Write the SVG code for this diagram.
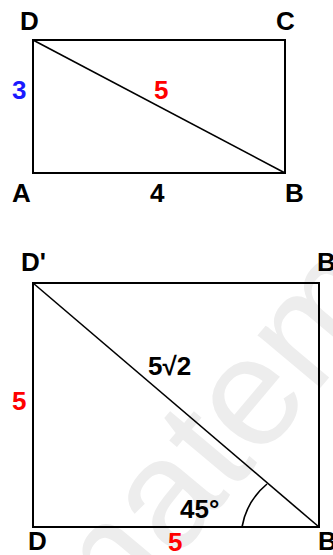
<svg xmlns="http://www.w3.org/2000/svg" width="333" height="555" viewBox="0 0 333 555">
<style>
.lbl{font-family:"Liberation Sans",Arial,sans-serif;font-weight:bold;font-size:26px;fill:#000}
.red{fill:#ff0000}
.blue{fill:#1a1aff}
.edge{fill:none;stroke:#000;stroke-width:2}
.diag{fill:none;stroke:#000;stroke-width:1.6}
.wm{font-family:"Liberation Sans",Arial,sans-serif;font-size:155px;fill:#ededed}
</style>
<rect width="333" height="555" fill="#fff"/>
<text class="wm" transform="translate(92,660) rotate(-50)">matem</text>
<g id="rect1">
<rect class="edge" x="33" y="40" width="252" height="133"/>
</g>
<g id="rect2">
<rect class="edge" x="33" y="283" width="286" height="244"/>
</g>
<g id="connectors">
<line class="diag" x1="33" y1="40" x2="285" y2="173"/>
<line class="diag" x1="33" y1="283" x2="319" y2="527"/>
<path class="diag" d="M242,527 A72,72 0 0 1 267,484"/>
</g>
<g id="labels1">
<text class="lbl" x="20" y="30">D</text>
<text class="lbl" x="276" y="30">C</text>
<text class="lbl blue" x="12" y="99">3</text>
<text class="lbl red" x="154" y="99">5</text>
<text class="lbl" x="12" y="202">A</text>
<text class="lbl" x="150" y="202">4</text>
<text class="lbl" x="285" y="202">B</text>
</g>
<g id="labels2">
<text class="lbl" x="21" y="271">D'</text>
<text class="lbl" x="317" y="271">B'</text>
<text class="lbl" x="148" y="375">5√2</text>
<text class="lbl red" x="12" y="410">5</text>
<text class="lbl" x="180" y="518">45°</text>
<text class="lbl" x="28" y="550">D</text>
<text class="lbl red" x="168" y="551">5</text>
<text class="lbl" x="318" y="550">B</text>
</g>
</svg>
